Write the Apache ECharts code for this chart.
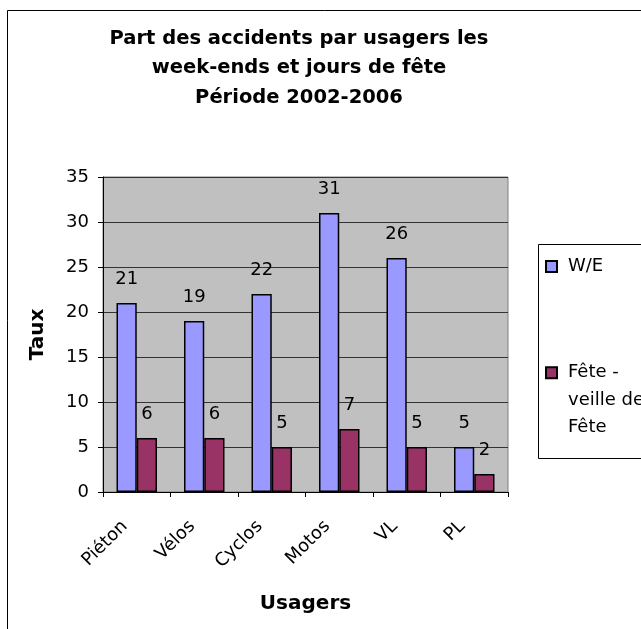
<!DOCTYPE html>
<html>
<head>
<meta charset="utf-8">
<script src="https://cdn.jsdelivr.net/npm/echarts@6/dist/echarts.min.js"></script>
<style>
html,body{margin:0;padding:0;background:#fff;}
#chart{width:641px;height:629px;}
</style>
</head>
<body>
<div id="chart"></div>
<script>
const categories = ['Piéton', 'Vélos', 'Cyclos', 'Motos', 'VL', 'PL'];
const weValues = [21, 19, 22, 31, 26, 5];
const feteValues = [6, 6, 5, 7, 5, 2];
const seriesNames = ['W/E', 'Fête - veille de Fête'];
const yTicks = { min: 0, max: 35, interval: 5 };

const FONT = '"DejaVu Sans", "Liberation Sans", Arial, sans-serif';
const chart = echarts.init(document.getElementById('chart'));
chart.setOption({
  backgroundColor: '#ffffff',
  animation: false,
  title: {
    text: 'Part des accidents par usagers les\nweek-ends et jours de fête\nPériode 2002-2006',
    left: 299,
    top: 24,
    padding: 0,
    textAlign: 'center',
    textStyle: { fontFamily: FONT, fontSize: 19.5, fontWeight: 'bold', color: '#000', lineHeight: 29.5 }
  },
  graphic: [
    { type: 'rect', shape: { x: 7.5, y: 10.5, width: 700, height: 700 }, style: { fill: 'none', stroke: '#000', lineWidth: 1 }, z: -10 },
    { type: 'rect', shape: { x: 538.5, y: 244.5, width: 200, height: 214 }, style: { fill: '#fff', stroke: '#000', lineWidth: 1 }, z: -5 }
  ],
  legend: [
    {
      data: [seriesNames[0]],
      left: 545, top: 255.5, padding: 0,
      itemWidth: 11, itemHeight: 11,
      icon: 'rect',
      textStyle: { fontFamily: FONT, fontSize: 18, color: '#000', lineHeight: 22, padding: [0, 0, 0, 6] }
    },
    {
      data: [seriesNames[1]],
      left: 545, top: 304, padding: 0,
      itemWidth: 11, itemHeight: 11,
      icon: 'rect',
      formatter: function () { return '\n\nFête -\nveille de\nFête'; },
      textStyle: { fontFamily: FONT, fontSize: 18, color: '#000', lineHeight: 27.5, padding: [0, 0, 0, 6] }
    }
  ],
  grid: {
    left: 103, right: 133, top: 177, bottom: 137,
    show: true, backgroundColor: '#C0C0C0', borderColor: '#808080', borderWidth: 1
  },
  xAxis: {
    type: 'category',
    data: categories,
    name: 'Usagers',
    nameLocation: 'middle',
    nameGap: 102,
    nameTextStyle: { fontFamily: FONT, fontSize: 20, fontWeight: 'bold', color: '#000' },
    axisLine: { lineStyle: { color: '#000', width: 1 } },
    axisTick: { show: true, length: 5, lineStyle: { color: '#000' } },
    axisLabel: { rotate: 45, margin: 19.5, padding: [0, 17, 0, 0], fontFamily: FONT, fontSize: 18, color: '#000', interval: 0 }
  },
  yAxis: {
    type: 'value',
    min: yTicks.min, max: yTicks.max, interval: yTicks.interval,
    name: 'Taux',
    nameLocation: 'middle',
    nameGap: 55,
    nameTextStyle: { fontFamily: FONT, fontSize: 20, fontWeight: 'bold', color: '#000' },
    axisLine: { show: true, lineStyle: { color: '#000', width: 1 } },
    axisTick: { show: true, length: 5, lineStyle: { color: '#000' } },
    axisLabel: { margin: 14, fontFamily: FONT, fontSize: 18, color: '#000' },
    splitLine: { show: true, lineStyle: { color: '#333', width: 1 } }
  },
  series: [
    {
      name: seriesNames[0], type: 'bar', data: weValues,
      barGap: 0, barCategoryGap: '40%',
      itemStyle: { color: '#9999FF', borderColor: '#000', borderWidth: 1.5 },
      label: { show: true, position: 'top', distance: 15, fontFamily: FONT, fontSize: 18, color: '#000' }
    },
    {
      name: seriesNames[1], type: 'bar', data: feteValues,
      barGap: 0, barCategoryGap: '40%',
      itemStyle: { color: '#993366', borderColor: '#000', borderWidth: 1.5 },
      label: { show: true, position: 'top', distance: 15, fontFamily: FONT, fontSize: 18, color: '#000' }
    }
  ]
});
</script>
</body>
</html>
